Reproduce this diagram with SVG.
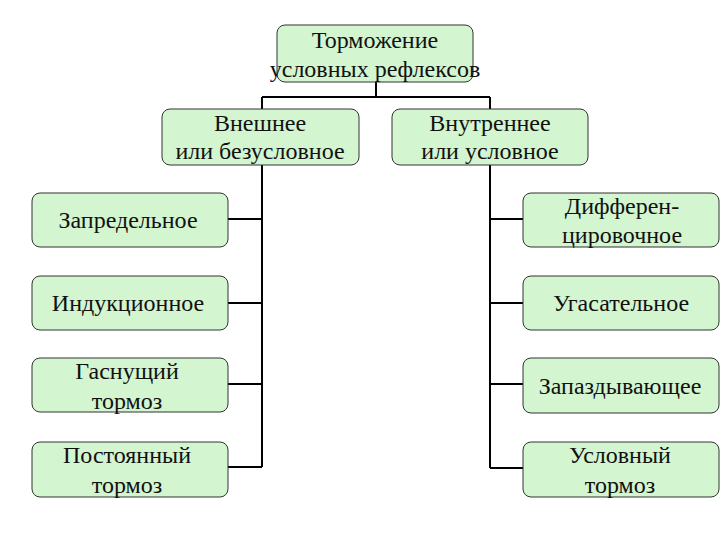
<svg xmlns="http://www.w3.org/2000/svg" width="720" height="540" viewBox="0 0 720 540">
<style>
.box{fill:#d3f5cf;stroke:#333;stroke-width:1}
.t{font-family:"Liberation Serif","Times New Roman",serif;font-size:24px;fill:#111;text-anchor:middle}
.c{fill:none;stroke:#000;stroke-width:2}
</style>
<rect width="720" height="540" fill="#fff"/>
<g id="connectors">
<path class="c" d="M376 82V97M262 97H490M262 97V110M490 97V110"/>
<path class="c" d="M262 165V467M228 219H262M228 303H262M228 384H262M228 467H262"/>
<path class="c" d="M490 165V468M490 219H523M490 303H523M490 384H523M490 468H523"/>
</g>
<g id="n0"><rect class="box" x="277" y="25" width="196" height="57" rx="8"/><text class="t" x="375" y="48">Торможение</text><text class="t" x="375" y="77">условных рефлексов</text></g>
<g id="n1"><rect class="box" x="162" y="109" width="197" height="56" rx="8"/><text class="t" x="260" y="131">Внешнее</text><text class="t" x="260" y="159">или безусловное</text></g>
<g id="n2"><rect class="box" x="392" y="109" width="196" height="56" rx="8"/><text class="t" x="490" y="131">Внутреннее</text><text class="t" x="490" y="159">или условное</text></g>
<g id="n3"><rect class="box" x="32" y="193" width="196" height="54" rx="8"/><text class="t" x="128" y="228">Запредельное</text></g>
<g id="n4"><rect class="box" x="32" y="276" width="196" height="54" rx="8"/><text class="t" x="128" y="311">Индукционное</text></g>
<g id="n5"><rect class="box" x="32" y="358" width="196" height="54" rx="8"/><text class="t" x="127" y="379">Гаснущий</text><text class="t" x="127" y="409">тормоз</text></g>
<g id="n6"><rect class="box" x="32" y="442" width="196" height="55" rx="8"/><text class="t" x="127" y="463">Постоянный</text><text class="t" x="127" y="493">тормоз</text></g>
<g id="n7"><rect class="box" x="523" y="193" width="196" height="54" rx="8"/><text class="t" x="622" y="214">Дифферен-</text><text class="t" x="622" y="243">цировочное</text></g>
<g id="n8"><rect class="box" x="523" y="276" width="196" height="54" rx="8"/><text class="t" x="621" y="311">Угасательное</text></g>
<g id="n9"><rect class="box" x="523" y="358" width="196" height="55" rx="8"/><text class="t" x="620" y="394">Запаздывающее</text></g>
<g id="n10"><rect class="box" x="523" y="442" width="196" height="55" rx="8"/><text class="t" x="620" y="463">Условный</text><text class="t" x="620" y="493">тормоз</text></g>
</svg>
